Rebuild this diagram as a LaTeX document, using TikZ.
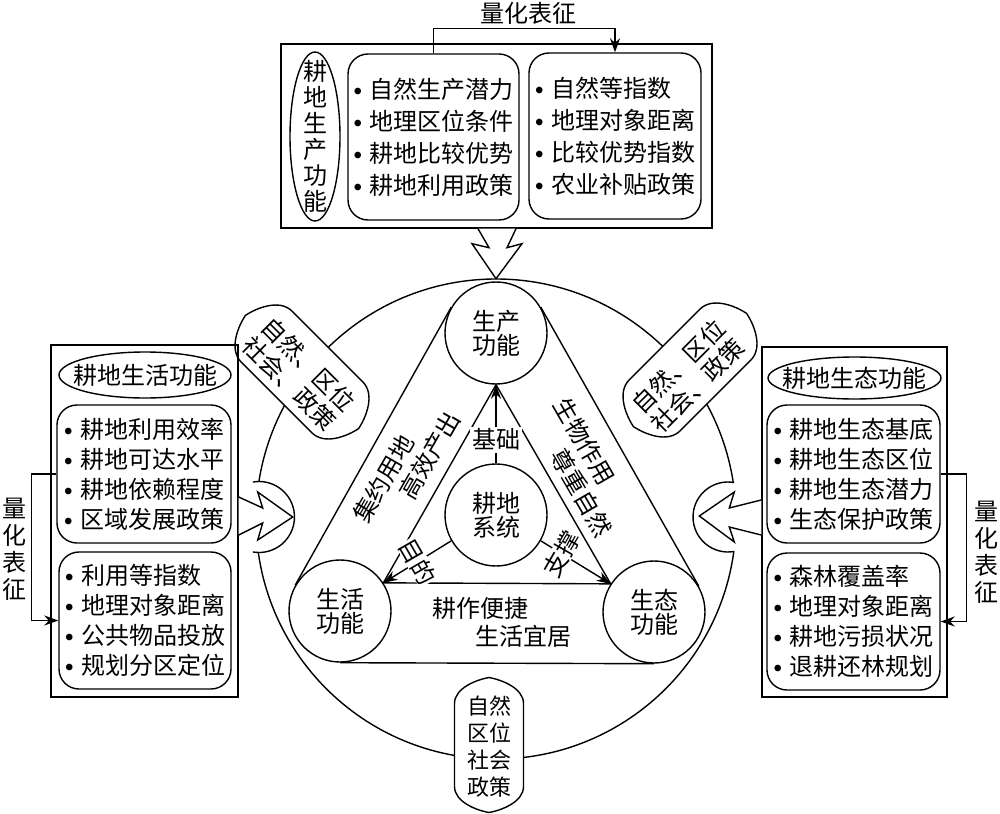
\documentclass[tikz,border=0pt]{standalone}
\usepackage{fontspec}
\setmainfont{Noto Sans CJK SC}
\usetikzlibrary{arrows.meta,shapes.geometric}

\newcommand{\itemdot}{\makebox[8pt][l]{\raisebox{1.5pt}{\footnotesize$\bullet$}}}
\newcommand{\pillpath}[3]{%
  (#3-#1,-#2) -- (#1-#3,-#2)
  .. controls (#1-0.4*#3,-#2) and (#1-0.08*#3,-0.35*#2) .. (#1,0)
  .. controls (#1-0.08*#3,0.35*#2) and (#1-0.4*#3,#2) .. (#1-#3,#2)
  -- (#3-#1,#2)
  .. controls (0.4*#3-#1,#2) and (0.08*#3-#1,0.35*#2) .. (-#1,0)
  .. controls (0.08*#3-#1,-0.35*#2) and (0.4*#3-#1,-#2) .. (#3-#1,-#2) -- cycle}

\begin{document}
\begin{tikzpicture}[x=0.5pt, y=-0.5pt, line width=0.7pt,
    every node/.style={inner sep=0pt, font=\fontsize{12}{16}\selectfont},
    outbox/.style={draw, rectangle},
    listbox/.style={draw, rounded corners=10pt, align=left},
    sidelist/.style={listbox, font=\fontsize{12}{15}\selectfont},
    oval/.style={draw, ellipse},
    fnode/.style={draw, circle, fill=white, minimum size=51pt, align=center,
      font=\fontsize{12}{12}\selectfont},
    vlabel/.style={align=center, font=\fontsize{12}{13.5}\selectfont},
    pilltext/.style={align=left, font=\fontsize{12}{13.5}\selectfont},
    duty/.style={align=left, font=\fontsize{12}{14}\selectfont},
    arr/.style={-{Stealth[length=7pt,width=5pt]}},
    zigzag/.style={draw, fill=white, line join=miter}]
  \useasboundingbox (0,0) rectangle (1000,813);

  % the whole system
  \node[draw, circle, minimum size=240pt] (outer) at (496,519) {};
  \coordinate (lbump) at (259,517);
  \coordinate (rbump) at (728,517);
  \fill[white] (lbump) circle (17.75pt);
  \draw (lbump) ++(100:17.75pt) arc[start angle=100, end angle=-100, radius=17.75pt];
  \fill[white] (rbump) circle (17.5pt);
  \draw (rbump) ++(80:17.5pt) arc[start angle=80, end angle=280, radius=17.5pt];

  % influencing factors
  \draw[fill=white, shift={(489,745)}, rotate=90] \pillpath{67.5}{34.5}{26};
  \node[align=center, font=\fontsize{11}{13.5}\selectfont] (bottomtag) at (489,747)
    {自然\\区位\\社会\\政策};
  \draw[fill=white, shift={(302,372)}, rotate=-45] \pillpath{80}{36}{30};
  \node[pilltext, rotate=-45] (lefttag) at (299,374) {自然、区位\\社会、政策};
  \draw[fill=white, shift={(690,370)}, rotate=45] \pillpath{80}{36}{30};
  \node[pilltext, rotate=45] (righttag) at (688,376) {自然、区位\\社会、政策};

  % three functions
  \node[fnode] (prodfn) at (496,333) {生产\\功能};
  \node[fnode] (livefn) at (340,611) {生活\\功能};
  \node[fnode] (ecofn) at (654,612) {生态\\功能};
  \node[fnode] (landsys) at (496,515) {耕地\\系统};
  \draw (livefn.150) -- (prodfn.150) (prodfn.30) -- (ecofn.30)
    (livefn.270) -- (ecofn.270);
  \draw (prodfn.south) -- (livefn.33) -- (ecofn.147) -- cycle;
  \draw[arr] (landsys) -- (prodfn.south)
    node[pos=0.3, fill=white, inner sep=1pt] (basis) {基础};
  \draw[arr] (landsys.210) -- (livefn.33)
    node[midway, fill=white, rotate=-60] (purpose) {目的};
  \draw[arr] (landsys.-30) -- (ecofn.147)
    node[pos=0.3, fill=white, rotate=60] (support) {支撑};
  \node[duty, rotate=60] (intensive) at (407,467) {集约用地\\\hspace{1.8em}高效产出};
  \node[duty, rotate=-60] (natural) at (583,467) {生物作用\\\hspace{1.8em}尊重自然};
  \node[duty] (livable) at (502,622) {耕作便捷\\\hspace{1.8em}生活宜居};

  % production
  \node[outbox, minimum width=215.5pt, minimum height=92pt] (prodframe) at (496.5,136) {};
  \node[oval, minimum width=25pt, minimum height=84.5pt] (prodoval) at (315,136.5) {};
  \node[vlabel, font=\fontsize{12}{13}\selectfont] (prodtitle) at (prodoval)
    {耕\\地\\生\\产\\功\\能};
  \node[listbox, minimum width=85.5pt, minimum height=83pt] (prodfactor) at (433.5,137)
    {\itemdot 自然生产潜力\\\itemdot 地理区位条件\\\itemdot 耕地比较优势\\\itemdot 耕地利用政策};
  \node[listbox, minimum width=86pt, minimum height=83pt] (prodindex) at (615,136)
    {\itemdot 自然等指数\\\itemdot 地理对象距离\\\itemdot 比较优势指数\\\itemdot 农业补贴政策};
  \draw[arr] (prodfactor.north) -- ++(0,-25) -| (prodindex.north);
  \node (prodqnt) at (528,13) {量化表征};
  \draw[zigzag, shift={(prodframe.south)}] (-18.5,0) -- (-7.5,19) -- (-24.5,15)
    -- (-0.5,50) -- (25.5,15) -- (10.5,19) -- (19.5,0);

  % living
  \node[outbox, minimum width=93.5pt, minimum height=176pt] (liveframe) at (144.5,521) {};
  \node[oval, minimum width=86pt, minimum height=23pt] (liveoval) at (145,375) {};
  \node (livetitle) at (liveoval) {耕地生活功能};
  \node[sidelist, minimum width=87pt, minimum height=69pt] (livefactor) at (144,474)
    {\itemdot 耕地利用效率\\\itemdot 耕地可达水平\\\itemdot 耕地依赖程度\\\itemdot 区域发展政策};
  \node[sidelist, minimum width=86pt, minimum height=68.5pt] (liveindex) at (145,620.5)
    {\itemdot 利用等指数\\\itemdot 地理对象距离\\\itemdot 公共物品投放\\\itemdot 规划分区定位};
  \draw[arr] (livefactor.west) -- ++(-25,0) |- (liveindex.west);
  \node[vlabel] (liveqnt) at (15,549) {量\\化\\表\\征};
  \draw[zigzag, shift={(liveframe.east)}] (0,-24) -- (24,-13) -- (19,-29)
    -- (54,-4) -- (19,19) -- (24,2) -- (0,14);

  % ecology
  \node[outbox, minimum width=92.5pt, minimum height=175pt] (ecoframe) at (854.5,522) {};
  \node[oval, minimum width=86.5pt, minimum height=21pt] (ecooval) at (854.5,378) {};
  \node (ecotitle) at (ecooval) {耕地生态功能};
  \node[sidelist, minimum width=86.5pt, minimum height=69pt] (ecofactor) at (853.5,474)
    {\itemdot 耕地生态基底\\\itemdot 耕地生态区位\\\itemdot 耕地生态潜力\\\itemdot 生态保护政策};
  \node[sidelist, minimum width=86.5pt, minimum height=68.5pt] (ecoindex) at (853.5,621.5)
    {\itemdot 森林覆盖率\\\itemdot 地理对象距离\\\itemdot 耕地污损状况\\\itemdot 退耕还林规划};
  \draw[arr] (ecofactor.east) -- ++(26,0) |- (ecoindex.east);
  \node[vlabel] (ecoqnt) at (986,552) {量\\化\\表\\征};
  \draw[zigzag, shift={(ecoframe.west)}] (0,-22) -- (-32,-14) -- (-27,-30)
    -- (-62,-6) -- (-27,20) -- (-32,5) -- (0,13);
\end{tikzpicture}
\end{document}
